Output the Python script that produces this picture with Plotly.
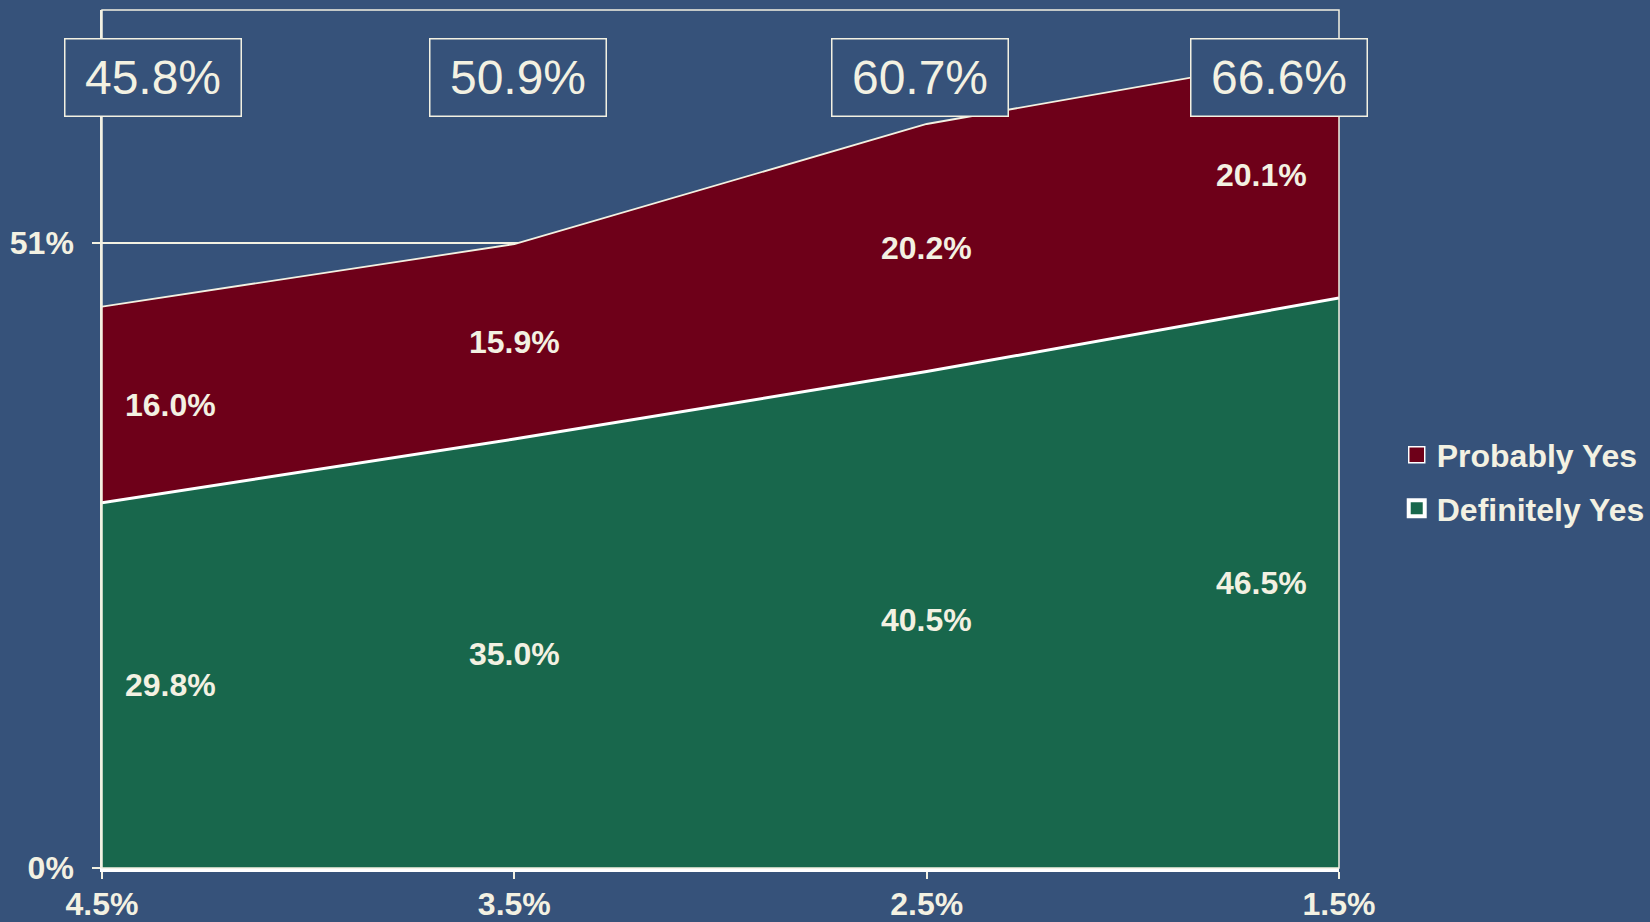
import plotly.graph_objects as go

# Values
categories = ["4.5%", "3.5%", "2.5%", "1.5%"]
definitely_yes = [29.8, 35.0, 40.5, 46.5]
probably_yes = [16.0, 15.9, 20.2, 20.1]
totals = [round(d + p, 1) for d, p in zip(definitely_yes, probably_yes)]
y_tick_vals = [0, 51]
y_tick_text = ["0%", "51%"]

# Styling
BG = "#36527A"
RED = "#6E0019"
GREEN = "#18674C"
CREAM = "#F3F1E2"
FONT = "Liberation Sans"

xpos = list(range(len(categories)))

fig = go.Figure()

fig.add_trace(go.Scatter(
    x=xpos, y=definitely_yes, mode="lines", stackgroup="s",
    line=dict(color="white", width=3), fillcolor=GREEN,
    showlegend=False, hoverinfo="skip"))
fig.add_trace(go.Scatter(
    x=xpos, y=probably_yes, mode="lines", stackgroup="s",
    line=dict(color=CREAM, width=1.8), fillcolor=RED,
    showlegend=False, hoverinfo="skip"))

# Legend entries
fig.add_trace(go.Scatter(
    x=[None], y=[None], mode="markers", name="Probably Yes",
    legendgroup="p",
    marker=dict(symbol="square", size=17, color=RED,
                line=dict(color="white", width=1.5))))
fig.add_trace(go.Scatter(
    x=[None], y=[None], mode="markers", name="Definitely Yes",
    legendgroup="d",
    marker=dict(symbol="square", size=17, color=GREEN,
                line=dict(color="white", width=4))))

# Segment labels, centred within each band
label_x = [0.166, 1.0, 2.0, 2.811]
for i, (d, p) in enumerate(zip(definitely_yes, probably_yes)):
    fig.add_annotation(x=label_x[i], y=d / 2, text=f"<b>{d:.1f}%</b>",
                       showarrow=False,
                       font=dict(family=FONT, size=32, color=CREAM))
    fig.add_annotation(x=label_x[i], y=d + p / 2, text=f"<b>{p:.1f}%</b>",
                       showarrow=False,
                       font=dict(family=FONT, size=32, color=CREAM))

# Boxed totals along the top
box_x = [0.1226, 1.0098, 1.985, 2.854]
for i, t in enumerate(totals):
    fig.add_annotation(x=box_x[i], y=64.5, text=f"{t:.1f}%",
                       showarrow=False, width=175, height=76,
                       bgcolor=BG, bordercolor=CREAM, borderwidth=1.5,
                       borderpad=0,
                       font=dict(family=FONT, size=48, color=CREAM))

fig.update_layout(
    width=1650, height=922,
    paper_bgcolor=BG, plot_bgcolor=BG,
    margin=dict(l=102, r=311, t=10, b=54, autoexpand=False),
    font=dict(family=FONT, color=CREAM),
    legend=dict(xref="container", x=0.8465, y=0.45, xanchor="left",
                yanchor="middle",
                traceorder="grouped", tracegroupgap=9,
                font=dict(family=FONT, size=32, color=CREAM,
                          weight="bold"),
                bgcolor="rgba(0,0,0,0)"),
    xaxis=dict(range=[0, 3], tickvals=xpos, ticktext=categories,
               automargin=False,
               showgrid=False, zeroline=False,
               showline=True, linecolor="white", linewidth=4,
               mirror=False, ticks="outside", ticklen=7,
               tickcolor=CREAM, tickwidth=1.5,
               tickfont=dict(family=FONT, size=32, color=CREAM,
                             weight="bold"),
               ticklabelstandoff=-2),
    yaxis=dict(range=[0, 70], tickvals=y_tick_vals, ticktext=y_tick_text,
               automargin=False,
               showgrid=True, gridcolor=CREAM, gridwidth=1.5,
               zeroline=False, showline=True, linecolor=CREAM,
               linewidth=1.5, ticks="outside", ticklen=8,
               tickcolor=CREAM, tickwidth=1.5,
               tickfont=dict(family=FONT, size=32, color=CREAM,
                             weight="bold"),
               ticklabelstandoff=12),
)

# Frame along the top and right edge of the plot area
fig.add_shape(type="rect", xref="paper", yref="paper", x0=0, x1=1, y0=0, y1=1,
              line=dict(color=CREAM, width=1.5), layer="above")

fig.write_html("out.html")
